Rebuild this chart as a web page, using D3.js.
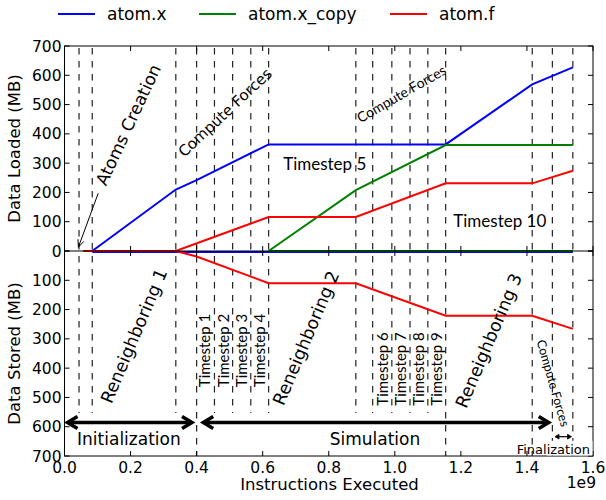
<!DOCTYPE html>
<html>
<head>
<meta charset="utf-8">
<script src="https://cdn.jsdelivr.net/npm/d3@7"></script>
<style>
  body { margin: 0; background: white; }
  svg { display: block; }
  text { font-family: "DejaVu Sans", sans-serif; fill: black; }
  .cal { font-family: Lato, "Open Sans", sans-serif; }
</style>
</head>
<body>
<svg id="chart" width="606" height="500"></svg>
<script>
// x in units of 1e9 instructions, y in MB
var seriesNames = ['atom.x', 'atom.x_copy', 'atom.f'];
var seriesColors = ['#0000ff', '#008000', '#ff0000'];

var loadedX = [[0.084, 0], [0.337, 210], [0.400, 242], [0.618, 364], [1.154, 364], [1.416, 569], [1.539, 627]];
var loadedXCopy = [[0.618, 0], [0.882, 208], [1.154, 362], [1.539, 362]];
var loadedF = [[0.057, 0], [0.337, 0], [0.618, 116], [0.882, 116], [1.154, 231], [1.416, 231], [1.539, 274]];

var storedX = [[0.084, 0], [1.539, 0]];
var storedXCopy = [[0.618, 0], [1.539, 0]];
var storedF = [[0.057, 0], [0.337, 0], [0.400, 19], [0.618, 110], [0.882, 110], [1.154, 221], [1.416, 221], [1.539, 266]];

// phase markers: short ones stop above the phase arrows
var shortMarks = [0.044, 0.084, 0.337, 0.454, 0.509, 0.564, 0.618, 0.882, 0.933, 0.991, 1.046, 1.100];
var fullMarks = [0.400, 1.154, 1.416, 1.477, 1.539];

var xTicks = [0, 0.2, 0.4, 0.6, 0.8, 1.0, 1.2, 1.4, 1.6];
var yTicks = [0, 100, 200, 300, 400, 500, 600, 700];

var timestepsA = [['Timestep 1', 0.454], ['Timestep 2', 0.509], ['Timestep 3', 0.564], ['Timestep 4', 0.618]];
var timestepsB = [['Timestep 6', 0.991], ['Timestep 7', 1.046], ['Timestep 8', 1.100], ['Timestep 9', 1.154]];
var reneighbor = [['Reneighboring 1', 0.210, 290], ['Reneighboring 2', 0.731, 297], ['Reneighboring 3', 1.284, 306]];

var svg = d3.select('#chart');
var plotLeft = 64.5, plotRight = 593, plotTop = 46, plotMid = 251, plotBottom = 456;

var x = d3.scaleLinear().domain([0, 1.6]).range([plotLeft, plotRight]);
var yTop = d3.scaleLinear().domain([0, 700]).range([plotMid, plotTop]);
var yBot = d3.scaleLinear().domain([0, 700]).range([plotMid, plotBottom]);

// dashed phase lines
var dash = svg.append('g').attr('stroke', '#222').attr('stroke-width', 1.2).attr('stroke-dasharray', '6.5,6.5');
dash.selectAll('line.s').data(shortMarks).enter().append('line')
    .attr('x1', function(d){ return x(d); }).attr('x2', function(d){ return x(d); })
    .attr('y1', yTop(700) + 2).attr('y2', yBot(553));
dash.selectAll('line.f').data(fullMarks).enter().append('line')
    .attr('x1', function(d){ return x(d); }).attr('x2', function(d){ return x(d); })
    .attr('y1', yTop(700) + 2).attr('y2', yBot(700));

// series
var line = d3.line();
function drawSeries(data, yScale, color){
    svg.append('path')
        .attr('d', line(data.map(function(p){ return [x(p[0]), yScale(p[1])]; })))
        .attr('fill', 'none')
        .attr('stroke', color)
        .attr('stroke-width', 2);
}
drawSeries(storedX, function(v){ return yBot(v) + 1; }, seriesColors[0]);
drawSeries(loadedX, yTop, seriesColors[0]);
drawSeries(storedXCopy, yBot, seriesColors[1]);
drawSeries(loadedXCopy, yTop, seriesColors[1]);
drawSeries(storedF, yBot, seriesColors[2]);
drawSeries(loadedF, yTop, seriesColors[2]);

// frame, middle axis and inward ticks
var axes = svg.append('g').attr('stroke', 'black').attr('stroke-width', 1);
axes.append('rect').attr('x', plotLeft).attr('y', plotTop).attr('width', plotRight - plotLeft).attr('height', plotBottom - plotTop).attr('fill', 'none');
axes.append('line').attr('x1', plotLeft).attr('x2', plotRight).attr('y1', plotMid).attr('y2', plotMid);
var tl = 5;
xTicks.forEach(function(t){
    var px = x(t);
    axes.append('line').attr('x1', px).attr('x2', px).attr('y1', plotTop).attr('y2', plotTop + tl);
    axes.append('line').attr('x1', px).attr('x2', px).attr('y1', plotBottom).attr('y2', plotBottom - tl);
    axes.append('line').attr('x1', px).attr('x2', px).attr('y1', plotMid - tl).attr('y2', plotMid + tl);
});
yTicks.forEach(function(t){
    [yTop(t), yBot(t)].forEach(function(py){
        axes.append('line').attr('x1', plotLeft).attr('x2', plotLeft + tl).attr('y1', py).attr('y2', py);
        axes.append('line').attr('x1', plotRight).attr('x2', plotRight - tl).attr('y1', py).attr('y2', py);
    });
});

// tick labels
var tickFont = '15.5px';
svg.selectAll('text.xt').data(xTicks).enter().append('text')
    .attr('x', function(d){ return x(d); }).attr('y', 472.5)
    .attr('text-anchor', 'middle').style('font-size', tickFont)
    .text(function(d){ return d.toFixed(1); });
svg.selectAll('text.yt').data(yTicks).enter().append('text')
    .attr('x', plotLeft - 3).attr('y', function(d){ return yTop(d); }).attr('dy', '0.36em')
    .attr('text-anchor', 'end').style('font-size', tickFont)
    .text(function(d){ return d; });
svg.selectAll('text.yb').data(yTicks.slice(1)).enter().append('text')
    .attr('x', plotLeft - 3).attr('y', function(d){ return yBot(d); }).attr('dy', '0.36em')
    .attr('text-anchor', 'end').style('font-size', tickFont)
    .text(function(d){ return d; });
svg.append('text').attr('x', 596).attr('y', 487.5).attr('text-anchor', 'end').style('font-size', tickFont).text('1e9');

// axis titles
svg.append('text').attr('x', 329.5).attr('y', 490).attr('text-anchor', 'middle').style('font-size', '16.5px').text('Instructions Executed');
svg.append('text').attr('transform', 'translate(20,' + yTop(350) + ') rotate(-90)').attr('text-anchor', 'middle').style('font-size', '16.5px').text('Data Loaded (MB)');
svg.append('text').attr('transform', 'translate(20,' + yBot(350) + ') rotate(-90)').attr('text-anchor', 'middle').style('font-size', '16.5px').text('Data Stored (MB)');

// legend
var legendX = [58, 199, 390];
seriesNames.forEach(function(name, i){
    svg.append('line').attr('x1', legendX[i]).attr('x2', legendX[i] + 37).attr('y1', 14).attr('y2', 14)
        .attr('stroke', seriesColors[i]).attr('stroke-width', 2);
    svg.append('text').attr('x', legendX[i] + 49).attr('y', 19.5).style('font-size', '17px').text(name);
});

// annotations
function rotText(label, px, py, angle, size, cls){
    return svg.append('text')
        .attr('class', cls || null)
        .attr('transform', 'translate(' + px + ',' + py + ') rotate(' + angle + ')')
        .attr('text-anchor', 'middle').attr('dy', '0.35em')
        .style('font-size', size).text(label);
}
rotText('Atoms Creation', x(0.193), yTop(431), -65, '17px');
rotText('Compute Forces', x(0.486), yTop(473), -43, '15px');
rotText('Compute Forces', x(1.020), yTop(536), -30, '14px', 'cal');
rotText('Compute Forces', x(1.479), yBot(451), 74, '12.5px', 'cal');
reneighbor.forEach(function(r){ rotText(r[0], x(r[1]), yBot(r[2]), -67, '17.5px'); });

svg.append('text').attr('class', 'cal').attr('x', x(0.662)).attr('y', yTop(277)).style('font-size', '17px').text('Timestep 5');
svg.append('text').attr('class', 'cal').attr('x', x(1.177)).attr('y', yTop(81)).style('font-size', '17px').text('Timestep 10');

function stepLabels(list, startY){
    list.forEach(function(s){
        svg.append('text').attr('class', 'cal')
            .attr('transform', 'translate(' + (x(s[1]) - 4) + ',' + yBot(startY) + ') rotate(-90)')
            .style('font-size', '15px').text(s[0]);
    });
}
stepLabels(timestepsA, 465);
stepLabels(timestepsB, 528);

// atoms creation pointer
var ax1 = x(0.102), ay1 = yTop(197), ax2 = x(0.042), ay2 = yTop(13);
var ang = Math.atan2(ay2 - ay1, ax2 - ax1);
svg.append('line').attr('x1', ax1).attr('y1', ay1).attr('x2', ax2).attr('y2', ay2).attr('stroke', 'black').attr('stroke-width', 1);
svg.append('path')
    .attr('d', 'M' + (ax2 - 8 * Math.cos(ang - 0.4)) + ',' + (ay2 - 8 * Math.sin(ang - 0.4)) + 'L' + ax2 + ',' + ay2 +
        'L' + (ax2 - 8 * Math.cos(ang + 0.4)) + ',' + (ay2 - 8 * Math.sin(ang + 0.4)))
    .attr('fill', 'none').attr('stroke', 'black').attr('stroke-width', 1);

// phase arrows
svg.append('rect').attr('x', x(1.46)).attr('y', yBot(648)).attr('width', plotRight - x(1.46) - 0.5).attr('height', plotBottom - yBot(648) - 0.5).attr('fill', 'white');
function phaseArrow(x1, x2, yv, width, head, filled){
    var py = yBot(yv), a = x(x1), b = x(x2);
    svg.append('line').attr('x1', a + (filled ? head : 1)).attr('x2', b - (filled ? head : 1)).attr('y1', py).attr('y2', py)
        .attr('stroke', 'black').attr('stroke-width', width);
    [[a, 1], [b, -1]].forEach(function(e){
        var hw = head * 0.6;
        var d = 'M' + (e[0] + e[1] * head) + ',' + (py - hw) + 'L' + e[0] + ',' + py + 'L' + (e[0] + e[1] * head) + ',' + (py + hw);
        svg.append('path').attr('d', filled ? d + 'Z' : d)
            .attr('fill', filled ? 'black' : 'none').attr('stroke', 'black')
            .attr('stroke-width', filled ? 0.8 : width).attr('stroke-linejoin', 'miter');
    });
}
phaseArrow(0.009, 0.386, 586, 3.5, 10, false);
phaseArrow(0.420, 1.466, 586, 3.5, 10, false);
phaseArrow(1.485, 1.535, 634, 1.2, 4, true);

svg.append('text').attr('x', x(0.195)).attr('y', yBot(662)).attr('text-anchor', 'middle').style('font-size', '17px').text('Initialization');
svg.append('text').attr('x', x(0.940)).attr('y', yBot(662)).attr('text-anchor', 'middle').style('font-size', '17px').text('Simulation');
svg.append('text').attr('x', x(1.480)).attr('y', yBot(693)).attr('text-anchor', 'middle').style('font-size', '13px').text('Finalization');
</script>
</body>
</html>
